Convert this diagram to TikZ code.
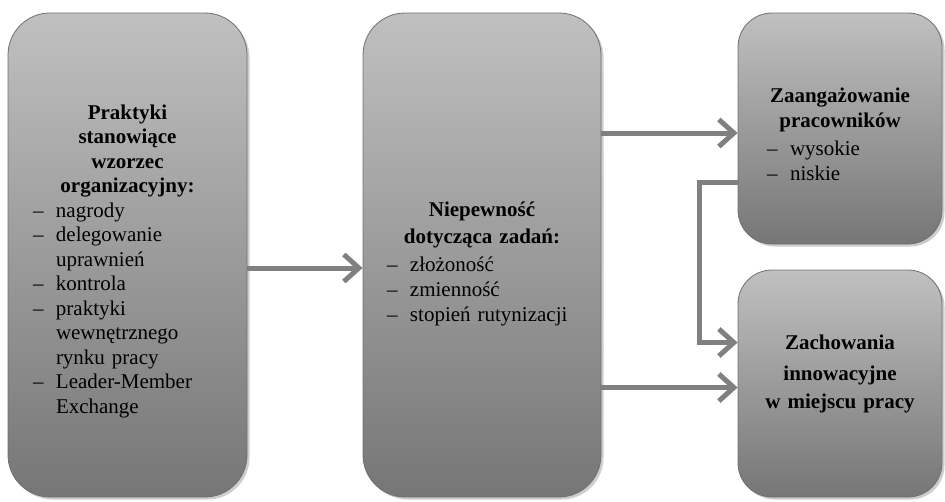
\documentclass[tikz,border=0pt]{standalone}
\usepackage{fontspec}
\setmainfont{Liberation Serif}
\usetikzlibrary{arrows.meta,shadows}
\definecolor{boxtop}{RGB}{192,192,192}
\definecolor{boxbot}{RGB}{118,118,118}
\definecolor{boxline}{RGB}{112,112,112}
\definecolor{arrcol}{RGB}{128,128,128}
\definecolor{shad}{RGB}{205,205,205}
\newcommand\lstln[3]{\makebox[#1][l]{\hspace*{#2}\makebox[23pt][l]{\textendash}#3}}
\newcommand\lstcont[3]{\makebox[#1][l]{\hspace*{#2}\hspace*{23pt}#3}}
\begin{document}
\begin{tikzpicture}[x=1pt,y=-1pt,
  box/.style={draw=boxline, line width=0.8pt, top color=boxtop, bottom color=boxbot,
    inner sep=0pt, align=center, font=\fontsize{21}{25}\selectfont,
    drop shadow={shadow xshift=2.5pt, shadow yshift=-2.5pt, fill=shad, opacity=1}},
  conn/.style={draw=arrcol, line width=5pt,
    -{Straight Barb[length=15pt,width=27pt]}}]
\useasboundingbox (0,0) rectangle (945,501);

\node[box, rounded corners=42pt, minimum width=239pt, minimum height=484pt, text width=239pt,
  font=\fontsize{21}{24.5}\selectfont]
  (lbox) at (127.5,255) {%
  {\bfseries \rule{0pt}{27.5pt}Praktyki\\stanowiące\\wzorzec\\organizacyjny:}\\
  \lstln{239pt}{25pt}{nagrody}\\
  \lstln{239pt}{25pt}{delegowanie}\\
  \lstcont{239pt}{25pt}{uprawnień}\\
  \lstln{239pt}{25pt}{kontrola}\\
  \lstln{239pt}{25pt}{praktyki}\\
  \lstcont{239pt}{25pt}{wewnętrznego}\\
  \lstcont{239pt}{25pt}{rynku pracy}\\
  \lstln{239pt}{25pt}{Leader-Member}\\
  \lstcont{239pt}{25pt}{Exchange}};

\node[box, rounded corners=42pt, minimum width=238pt, minimum height=484pt, text width=238pt]
  (mbox) at (482,255) {%
  {\bfseries \rule{0pt}{33pt}Niepewność\\[2pt]dotycząca zadań:}\\[3pt]
  \lstln{238pt}{24pt}{złożoność}\\
  \lstln{238pt}{24pt}{zmienność}\\
  \lstln{238pt}{24pt}{stopień rutynizacji}};

\node[box, rounded corners=34pt, minimum width=204pt, minimum height=231pt, text width=204pt]
  (tr) at (840,128.5) {%
  {\bfseries \rule{0pt}{27pt}Zaangażowanie\\pracowników}\\[3pt]
  \lstln{204pt}{29pt}{wysokie}\\
  \lstln{204pt}{29pt}{niskie}};

\node[box, rounded corners=34pt, minimum width=204pt, minimum height=227pt, text width=204pt]
  (br) at (840,383.5) {%
  {\bfseries Zachowania\\[6pt]innowacyjne\\[3pt]w miejscu pracy\rule[-24pt]{0pt}{24pt}}};

\coordinate (m1) at ([yshift=-13pt]mbox.west);
\coordinate (t1) at ([yshift=-4.5pt]tr.west);
\coordinate (t2) at ([yshift=-4pt]br.west);
\coordinate (f1) at ([yshift=-53.5pt]tr.west);
\coordinate (f2) at ([yshift=41pt]br.west);

\draw[conn] (lbox.east |- m1) -- (m1);
\draw[conn] (mbox.east |- t1) -- (t1);
\draw[conn] (mbox.east |- t2) -- (t2);
\draw[conn] (f1) -- ++(-38,0) |- (f2);
\end{tikzpicture}
\end{document}
